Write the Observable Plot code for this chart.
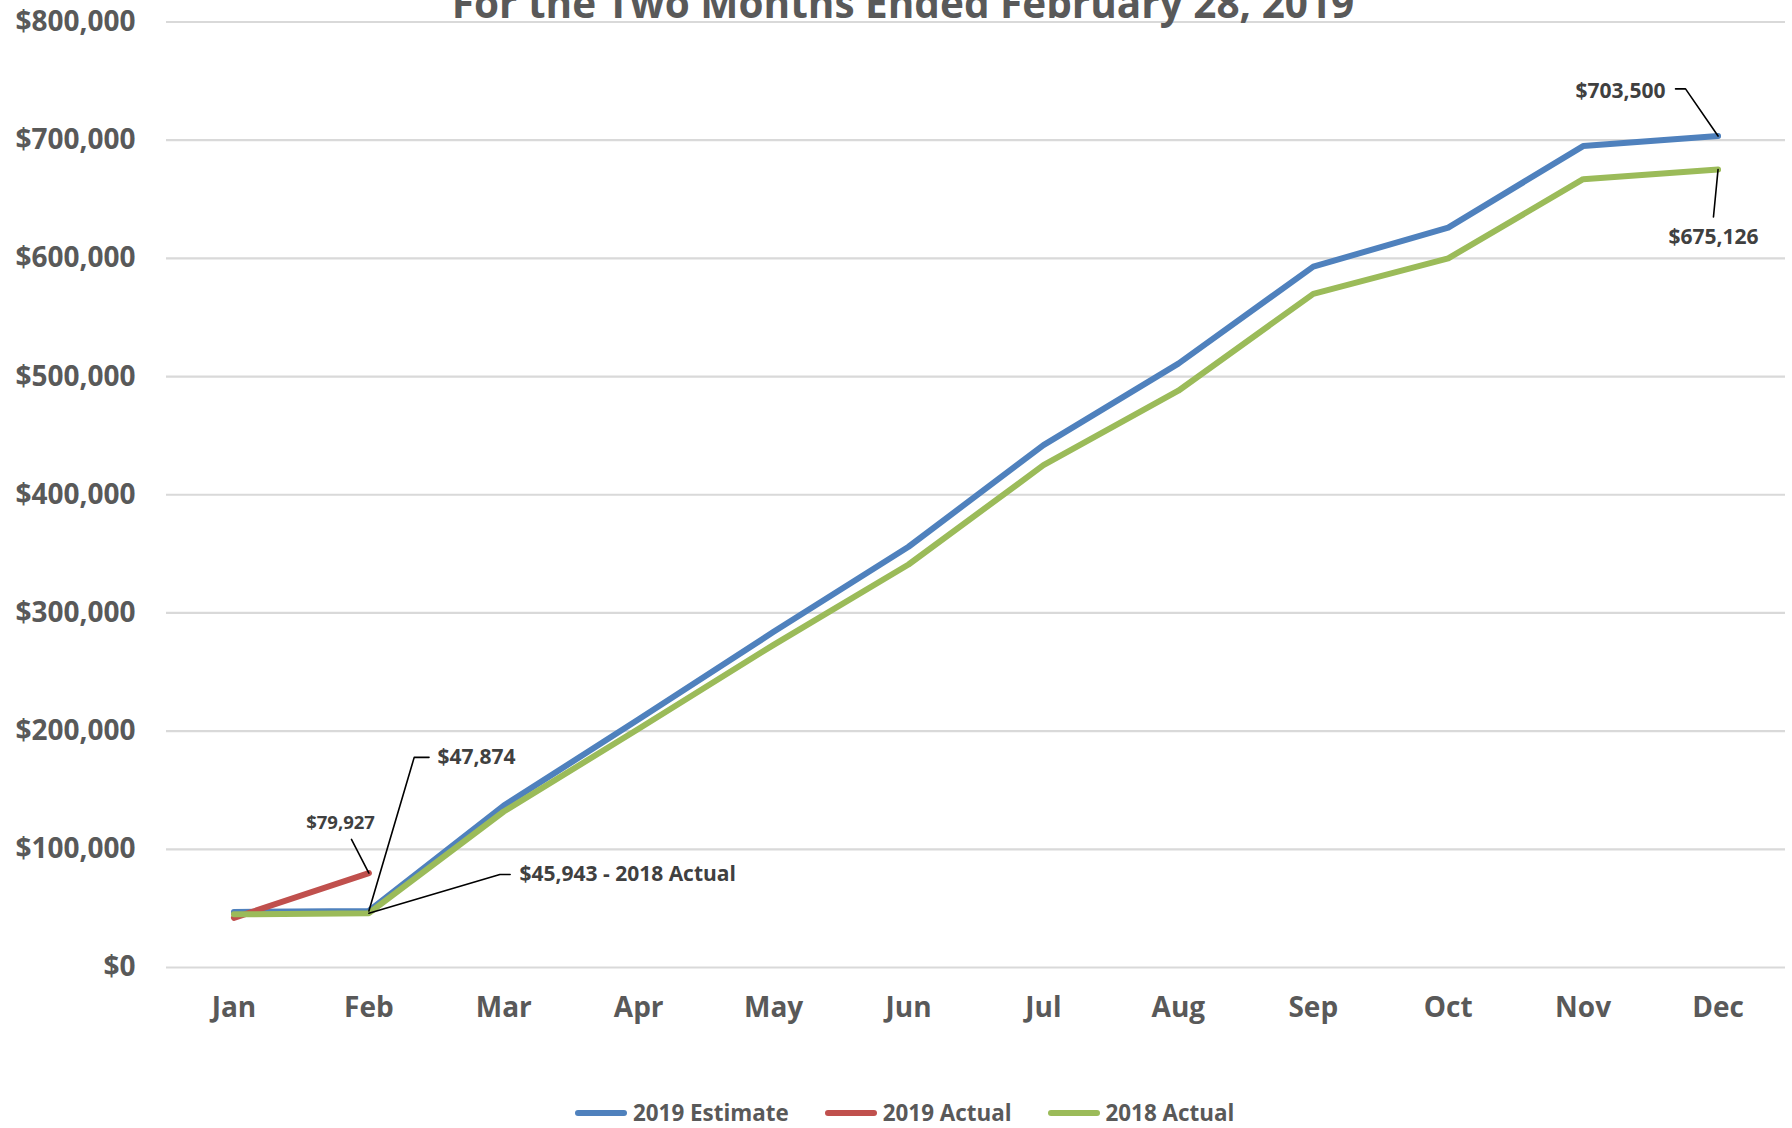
<!DOCTYPE html>
<html>
<head>
<meta charset="utf-8">
<script src="https://cdn.jsdelivr.net/npm/d3@7"></script>
<script src="https://cdn.jsdelivr.net/npm/@observablehq/plot@0.6"></script>
<style>
  html, body { margin: 0; padding: 0; background: #fff; }
  #wrap { position: relative; width: 1792px; height: 1128px; overflow: hidden; font-family: "Open Sans", sans-serif; }
  #title { position: absolute; left: 0; width: 1806px; top: -17px; text-align: center; font-size: 40.5px; line-height: 40px; font-weight: 700; color: #595959; z-index: 2; white-space: nowrap; }
  #legend { position: absolute; left: 575px; top: 1098px; display: flex; align-items: center; gap: 36px; font-size: 22.4px; line-height: 30px; font-weight: 700; color: #595959; }
  .item { display: flex; align-items: center; }
  .sw { width: 52px; height: 6px; border-radius: 3px; margin-right: 6px; }
</style>
</head>
<body>
<div id="wrap">
  <div id="title">For the Two Months Ended February 28, 2019</div>
  <div id="chart"></div>
  <div id="legend"></div>
</div>
<script>
// ---- data ----
const months = ["Jan","Feb","Mar","Apr","May","Jun","Jul","Aug","Sep","Oct","Nov","Dec"];
const estimate2019 = [47000, 47874, 137000, 210000, 284000, 356000, 442000, 511000, 593000, 626000, 695000, 703500];
const actual2019 = [42000, 79927];
const actual2018 = [45000, 45943, 132000, 202000, 273000, 341000, 425000, 488000, 570000, 600000, 667000, 675126];
const seriesNames = ["2019 Estimate", "2019 Actual", "2018 Actual"];
const yTicks = [0, 100000, 200000, 300000, 400000, 500000, 600000, 700000, 800000];

// annotation labels (anchored in data units: month index, dollars)
const annLabels = [
  {text: "$47,874", x: 1.508, y: 177800, anchor: "start", size: 21},
  {text: "$45,943 - 2018 Actual", x: 2.116, y: 78750, anchor: "start", size: 21},
  {text: "$79,927", x: 0.79, y: 121900, anchor: "middle", size: 18.5},
  {text: "$703,500", x: 10.61, y: 741700, anchor: "end", size: 21},
  {text: "$675,126", x: 10.966, y: 618100, anchor: "middle", size: 21}
];
// leader lines (polyline vertices per annotation)
const leaders = [
  {id: "a", x: 1.446, y: 177800}, {id: "a", x: 1.336, y: 177800}, {id: "a", x: 1, y: 47874},
  {id: "b", x: 2.047, y: 78750}, {id: "b", x: 1.971, y: 78750}, {id: "b", x: 1, y: 45943},
  {id: "c", x: 0.871, y: 108400}, {id: "c", x: 1, y: 79927},
  {id: "d", x: 10.685, y: 743400}, {id: "d", x: 10.759, y: 743400}, {id: "d", x: 11, y: 703500},
  {id: "e", x: 10.966, y: 635000}, {id: "e", x: 11, y: 675126}
];

const colors = ["#4f81bd", "#c0504d", "#9bbb59"];

const est = estimate2019.map((v, i) => ({i, v}));
const a19 = actual2019.map((v, i) => ({i, v}));
const a18 = actual2018.map((v, i) => ({i, v}));

const lineOpts = (c) => ({x: "i", y: "v", stroke: c, strokeWidth: 6, strokeLinecap: "round", strokeLinejoin: "round"});

const fmt = d3.format(",");
const chart = Plot.plot({
  width: 1792,
  height: 1080,
  marginTop: 21.5,
  marginBottom: 113,
  marginLeft: 166,
  marginRight: 7,
  style: {fontFamily: "'Open Sans', sans-serif", background: "#fff"},
  x: {type: "linear", domain: [-0.5, 11.5]},
  y: {domain: [0, 800000]},
  marks: [
    Plot.gridY(yTicks, {stroke: "#d9d9d9", strokeOpacity: 1, strokeWidth: 2.2}),
    Plot.axisY(yTicks, {tickSize: 0, tickPadding: 31, fontSize: 28, fontWeight: 700, fill: "#595959", tickFormat: d => "$" + fmt(d), label: null}),
    Plot.axisX(d3.range(months.length), {tickSize: 0, tickPadding: 30, fontSize: 28, fontWeight: 700, fill: "#595959", tickFormat: i => months[i], label: null}),
    Plot.line(est, lineOpts(colors[0])),
    Plot.line(a19, lineOpts(colors[1])),
    Plot.line(a18, lineOpts(colors[2])),
    Plot.line(leaders, {x: "x", y: "y", z: "id", stroke: "#000", strokeWidth: 1.6}),
    ...annLabels.map(a => Plot.text([a], {x: "x", y: "y", text: "text", textAnchor: a.anchor, fontSize: a.size, fontWeight: 700, fill: "#404040"}))
  ]
});
document.getElementById("chart").appendChild(chart);

const legend = document.getElementById("legend");
seriesNames.forEach((n, k) => {
  const it = document.createElement("div");
  it.className = "item";
  it.innerHTML = `<span class="sw" style="background:${colors[k]}"></span><span>${n}</span>`;
  legend.appendChild(it);
});
</script>
</body>
</html>
